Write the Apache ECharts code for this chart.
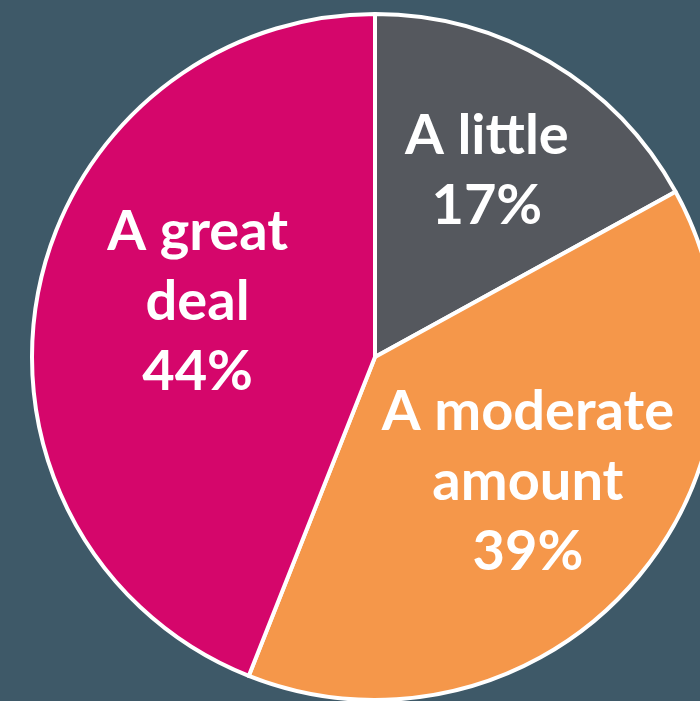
<!DOCTYPE html>
<html><head><meta charset="utf-8">
<script src="https://cdn.jsdelivr.net/npm/echarts@6/dist/echarts.min.js"></script>
<style>html,body{margin:0;padding:0;background:#3e5968;}#c{width:700px;height:701px;}</style>
</head><body><div id="c"></div>
<script>
const categories = ["A little", "A moderate\namount", "A great\ndeal"];
const values = [17, 39, 44];
const colors = ["#55585e", "#f5974a", "#d5066b"];
const labelOffsets = [[23, -36], [22, 10], [-6, -22]];

const chart = echarts.init(document.getElementById('c'));
chart.setOption({
  backgroundColor: '#3e5968',
  animation: false,
  series: [{
    type: 'pie',
    center: [375, 357],
    radius: [0, 343],
    startAngle: 90,
    clockwise: true,
    itemStyle: { borderColor: '#ffffff', borderWidth: 4 },
    label: {
      position: 'inside',
      color: '#ffffff',
      fontFamily: 'Lato',
      fontWeight: 'bold',
      fontSize: 56,
      lineHeight: 70,
      formatter: p => p.name + '\n' + p.value + '%'
    },
    labelLine: { show: false },
    data: categories.map((c, i) => ({
      name: c, value: values[i],
      itemStyle: { color: colors[i] },
      label: { offset: labelOffsets[i] }
    }))
  }]
});
</script></body></html>
